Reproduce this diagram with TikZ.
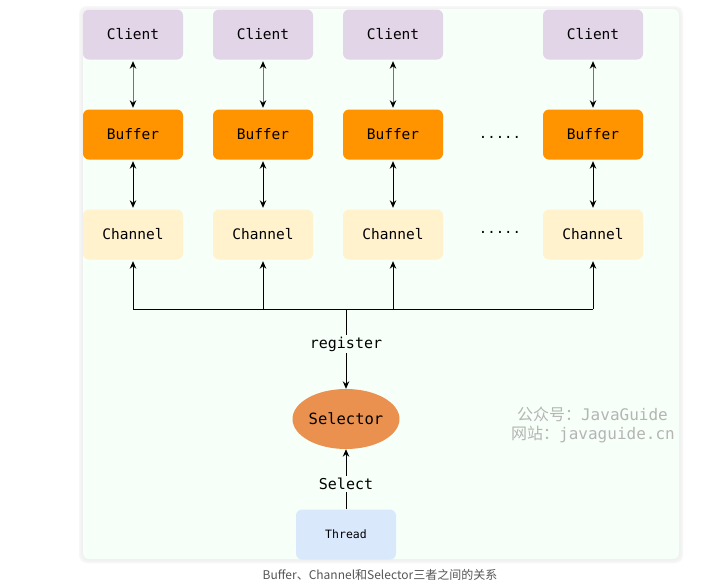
\documentclass[tikz,border=0pt]{standalone}
\usepackage{fontspec}
\setmonofont{DejaVu Sans Mono}
\newfontfamily\cjk{Noto Sans CJK SC}
\usetikzlibrary{arrows.meta,shapes.geometric,calc}
\definecolor{panelbg}{HTML}{F6FFF8}
\definecolor{clientc}{HTML}{E1D5E7}
\definecolor{bufferc}{HTML}{FF9400}
\definecolor{channelc}{HTML}{FFF2CC}
\definecolor{threadc}{HTML}{DAE8FC}
\definecolor{selc}{HTML}{EA9150}
\definecolor{wm}{HTML}{B5B5B5}
\definecolor{capc}{HTML}{555555}
\tikzset{
  box/.style={rectangle, rounded corners=6pt, minimum width=100pt, minimum height=50pt, inner sep=0pt, font=\ttfamily\fontsize{14.5}{16}\selectfont},
  clientbox/.style={box, fill=clientc},
  bufferbox/.style={box, fill=bufferc},
  channelbox/.style={box, fill=channelc},
  conn/.style={line width=1pt, {Stealth[length=7.5pt,width=6.5pt,black]}-{Stealth[length=7.5pt,width=6.5pt,black]}},
  oneway/.style={line width=1pt, -{Stealth[length=7.5pt,width=6.5pt]}},
  lbl/.style={fill=panelbg, inner sep=2pt, font=\ttfamily\fontsize{15}{17}\selectfont},
  dotsl/.style={font=\ttfamily\fontsize{14}{16}\selectfont}
}
\begin{document}
\begin{tikzpicture}[x=1pt,y=-1pt]
\useasboundingbox (0,0) rectangle (710,587);
\fill[white] (0,0) rectangle (710,587);
% panel shadow
\foreach \o/\c in {4/3,3/4,2/5,1/6}{
  \fill[black!\c, rounded corners=8pt] (83-\o,9-\o+1) rectangle (679+\o,559+\o);
}
\fill[panelbg, rounded corners=6pt] (83,9) rectangle (679,559);
% columns
\foreach \n/\x in {a/133,b/263,c/393,d/593}{
  \node[clientbox] (cl\n) at (\x,34.5) {Client};
  \node[bufferbox] (bu\n) at (\x,134.5) {Buffer};
  \node[channelbox] (ch\n) at (\x,234.5) {Channel};
  \draw[conn, black!55] ($(cl\n.south)+(0,1.5)$) -- ($(bu\n.north)+(0,-1.5)$);
  \draw[conn] ($(bu\n.south)+(0,1.5)$) -- ($(ch\n.north)+(0,-1.5)$);
}
\node[dotsl] (dots1) at (500,137) {.....};
\node[dotsl] (dots2) at (500,232) {.....};
% bus
\coordinate (bus) at (346,309);
\foreach \n in {a,b,c,d}{
  \draw[oneway] (bus -| ch\n) -- ($(ch\n.south)+(0,1.5)$);
}
\draw[line width=1pt] (bus -| cha) -- (bus -| chd);
% selector
\node[ellipse, fill=selc, minimum width=107pt, minimum height=60pt, inner sep=0pt, font=\ttfamily\fontsize{15.5}{17}\selectfont] (sel) at (346,419) {Selector};
\draw[oneway] (bus) -- (sel.north);
\node[lbl] (reg) at (346,344) {register};
\node[box, fill=threadc, font=\ttfamily\fontsize{11.5}{13}\selectfont] (thr) at (346,534.5) {Thread};
\draw[oneway] (thr.north) -- (sel.south);
\node[lbl] (selt) at (346,484) {Select};
% watermark
\node[anchor=east, text=wm, inner sep=0pt, font=\fontsize{16}{18}\selectfont] (wm1) at (668,414) {{\cjk 公众号：}\ttfamily JavaGuide};
\node[anchor=east, text=wm, inner sep=0pt, font=\fontsize{16}{18}\selectfont] (wm2) at (675,434) {{\cjk 网站：}\ttfamily javaguide.cn};
% caption
\node[text=capc, inner sep=0pt, font=\cjk\fontsize{12}{14}\selectfont] (cap) at (380,575) {Buffer、Channel和Selector三者之间的关系};
\end{tikzpicture}
\end{document}
